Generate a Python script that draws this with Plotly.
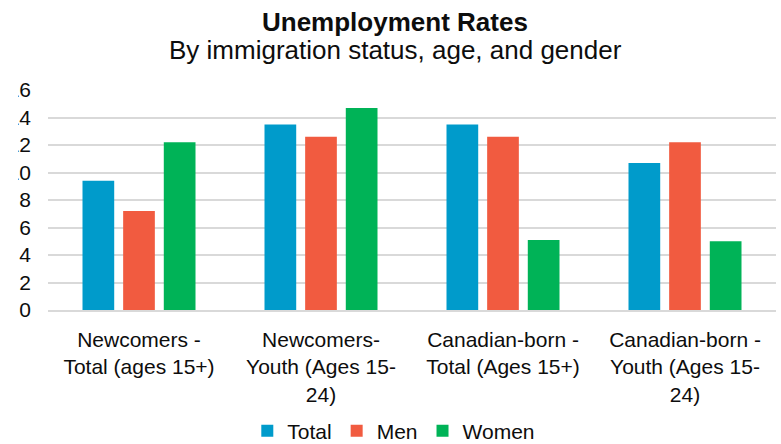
import plotly.graph_objects as go

categories = [
    "Newcomers -<br>Total (ages 15+)",
    "Newcomers-<br>Youth (Ages 15-<br>24)",
    "Canadian-born -<br>Total (Ages 15+)",
    "Canadian-born -<br>Youth (Ages 15-<br>24)",
]
series_names = ["Total", "Men", "Women"]
total_values = [9.4, 13.5, 13.5, 10.7]
men_values = [7.2, 12.6, 12.6, 12.2]
women_values = [12.2, 14.7, 5.1, 5.0]
series_colors = ["#009BCB", "#F15B40", "#00B357"]
y_ticks = [0, 2, 4, 6, 8, 10, 12, 14, 16]

FONT = "Liberation Sans, Arial, sans-serif"
TXT = "#0d0d0d"

fig = go.Figure()
for name, vals, col in zip(series_names, [total_values, men_values, women_values], series_colors):
    fig.add_trace(go.Bar(name=name, x=categories, y=vals, marker=dict(color=col, line=dict(width=0))))

W, H = 781, 444
L, R, T, B = 48, 5, 90, 134
pw = W - L - R
ph = H - T - B

fig.update_layout(
    width=W, height=H,
    margin=dict(l=L, r=R, t=T, b=B, autoexpand=False),
    paper_bgcolor="white", plot_bgcolor="white",
    font=dict(family=FONT, size=21, color=TXT),
    barmode="group", bargap=0.33, bargroupgap=0.22,
    showlegend=True,
    legend=dict(orientation="h", x=0.475, xanchor="center", y=(310 - 431) / ph, yanchor="middle",
                font=dict(size=21, color=TXT), itemwidth=30, traceorder="normal"),
    xaxis=dict(showgrid=False, showline=True, linecolor="#d9d9d9", linewidth=1.5,
               tickfont=dict(size=21, color=TXT), ticks="", ticklabelstandoff=10, automargin=False),
    yaxis=dict(range=[0, 16], tickvals=y_ticks, ticktext=[str(v) for v in y_ticks],
               showgrid=True, gridcolor="#d9d9d9", gridwidth=1.5, zeroline=False,
               showline=False, ticks="", ticklabelstandoff=16,
               tickfont=dict(size=21, color=TXT), automargin=False),
    annotations=[
        dict(text="<b>Unemployment Rates</b>", xref="paper", yref="paper",
             x=(395 - L) / pw, y=(310 - 22) / ph, xanchor="center", yanchor="middle",
             showarrow=False, font=dict(size=26, color=TXT, family=FONT)),
        dict(text="By immigration status, age, and gender", xref="paper", yref="paper",
             x=(395 - L) / pw, y=(310 - 50) / ph, xanchor="center", yanchor="middle",
             showarrow=False, font=dict(size=26, color=TXT, family=FONT)),
    ],
    shapes=[
        dict(type="rect", xref="paper", yref="paper", x0=-0.2, x1=(18.0 - L) / pw,
             y0=-0.1, y1=1.1, fillcolor="white", line=dict(width=0), layer="above"),
    ],
)

fig.write_html("out.html", config={"displayModeBar": False},
               post_script="document.body.style.margin='0';")
